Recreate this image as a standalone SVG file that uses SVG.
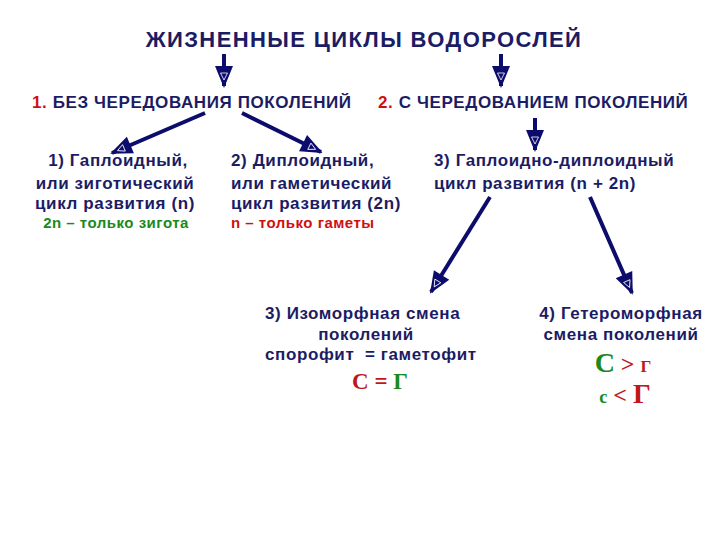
<svg xmlns="http://www.w3.org/2000/svg" width="720" height="540" viewBox="0 0 720 540">
<style>
.t{font-family:"Liberation Sans",Arial,sans-serif;font-weight:bold;fill:#1c1c64}
.h{font-size:17px;letter-spacing:0.6px}
.b{font-size:17px;letter-spacing:0.6px}
.s{font-size:15px;letter-spacing:0.5px}
.r{fill:#d01010}
.g{fill:#1a8a1a}
.sf{font-family:"Liberation Serif","Times New Roman",serif;font-weight:bold}
.ar{stroke:#0c0c6c;stroke-width:4;fill:none}
</style>
<defs>
<marker id="ah" markerUnits="userSpaceOnUse" markerWidth="30" markerHeight="30" viewBox="-24 -15 30 30" refX="0" refY="0" orient="auto">
<path d="M-20,-9 L2,0 L-20,9 Z" fill="#0c0c6c"/>
<path d="M-13,-3.5 L-6,0 L-13,3.5 Z" fill="none" stroke="#ffffff" stroke-width="0.8"/>
</marker>
</defs>
<rect width="720" height="540" fill="#ffffff"/>
<g id="title"><text class="t" x="364" y="47" text-anchor="middle" font-size="22" letter-spacing="1.4">ЖИЗНЕННЫЕ ЦИКЛЫ ВОДОРОСЛЕЙ</text></g>
<g id="connectors">
<line class="ar" x1="224" y1="54" x2="224" y2="86" marker-end="url(#ah)"/>
<line class="ar" x1="501" y1="54" x2="501" y2="86" marker-end="url(#ah)"/>
<line class="ar" x1="205" y1="113" x2="112" y2="153" marker-end="url(#ah)"/>
<line class="ar" x1="242" y1="113" x2="321" y2="152" marker-end="url(#ah)"/>
<line class="ar" x1="535" y1="118" x2="535" y2="150" marker-end="url(#ah)"/>
<line class="ar" x1="490" y1="197" x2="431" y2="292" marker-end="url(#ah)"/>
<line class="ar" x1="590" y1="197" x2="632" y2="293" marker-end="url(#ah)"/>
</g>
<g id="n1"><text class="t h" x="32" y="108"><tspan class="r">1.</tspan> БЕЗ ЧЕРЕДОВАНИЯ ПОКОЛЕНИЙ</text></g>
<g id="n2"><text class="t h" x="378" y="108"><tspan class="r">2.</tspan> С ЧЕРЕДОВАНИЕМ ПОКОЛЕНИЙ</text></g>
<g id="n11">
<text class="t b" x="118" y="166" text-anchor="middle">1) Гаплоидный,</text>
<text class="t b" x="115" y="189" text-anchor="middle">или зиготический</text>
<text class="t b" x="115" y="209" text-anchor="middle">цикл развития (n)</text>
<text class="t s g" x="116" y="228" text-anchor="middle">2n – только зигота</text>
</g>
<g id="n12">
<text class="t b" x="231" y="166">2) Диплоидный,</text>
<text class="t b" x="231" y="189">или гаметический</text>
<text class="t b" x="231" y="209">цикл развития (2n)</text>
<text class="t s r" x="231" y="228">n – только гаметы</text>
</g>
<g id="n21">
<text class="t b" x="434" y="166">3) Гаплоидно-диплоидный</text>
<text class="t b" x="434" y="189">цикл развития (n + 2n)</text>
</g>
<g id="n3">
<text class="t b" x="265" y="319">3) Изоморфная смена</text>
<text class="t b" x="366" y="340" text-anchor="middle">поколений</text>
<text class="t b" x="265" y="360" xml:space="preserve">спорофит  = гаметофит</text>
<text class="sf" x="380" y="389" text-anchor="middle" font-size="23"><tspan fill="#c01818">С = </tspan><tspan fill="#1a8a1a">Г</tspan></text>
</g>
<g id="n4">
<text class="t b" x="621" y="319" text-anchor="middle">4) Гетероморфная</text>
<text class="t b" x="621" y="340" text-anchor="middle">смена поколений</text>
<text class="sf" x="623" y="372" text-anchor="middle"><tspan fill="#1a8a1a" font-size="28">С</tspan><tspan fill="#c01818" font-size="24"> &gt; </tspan><tspan fill="#c01818" font-size="17">Г</tspan></text>
<text class="sf" x="625" y="403" text-anchor="middle"><tspan fill="#1a8a1a" font-size="18">с</tspan><tspan fill="#c01818" font-size="24"> &lt; </tspan><tspan fill="#c01818" font-size="28">Г</tspan></text>
</g>
</svg>
